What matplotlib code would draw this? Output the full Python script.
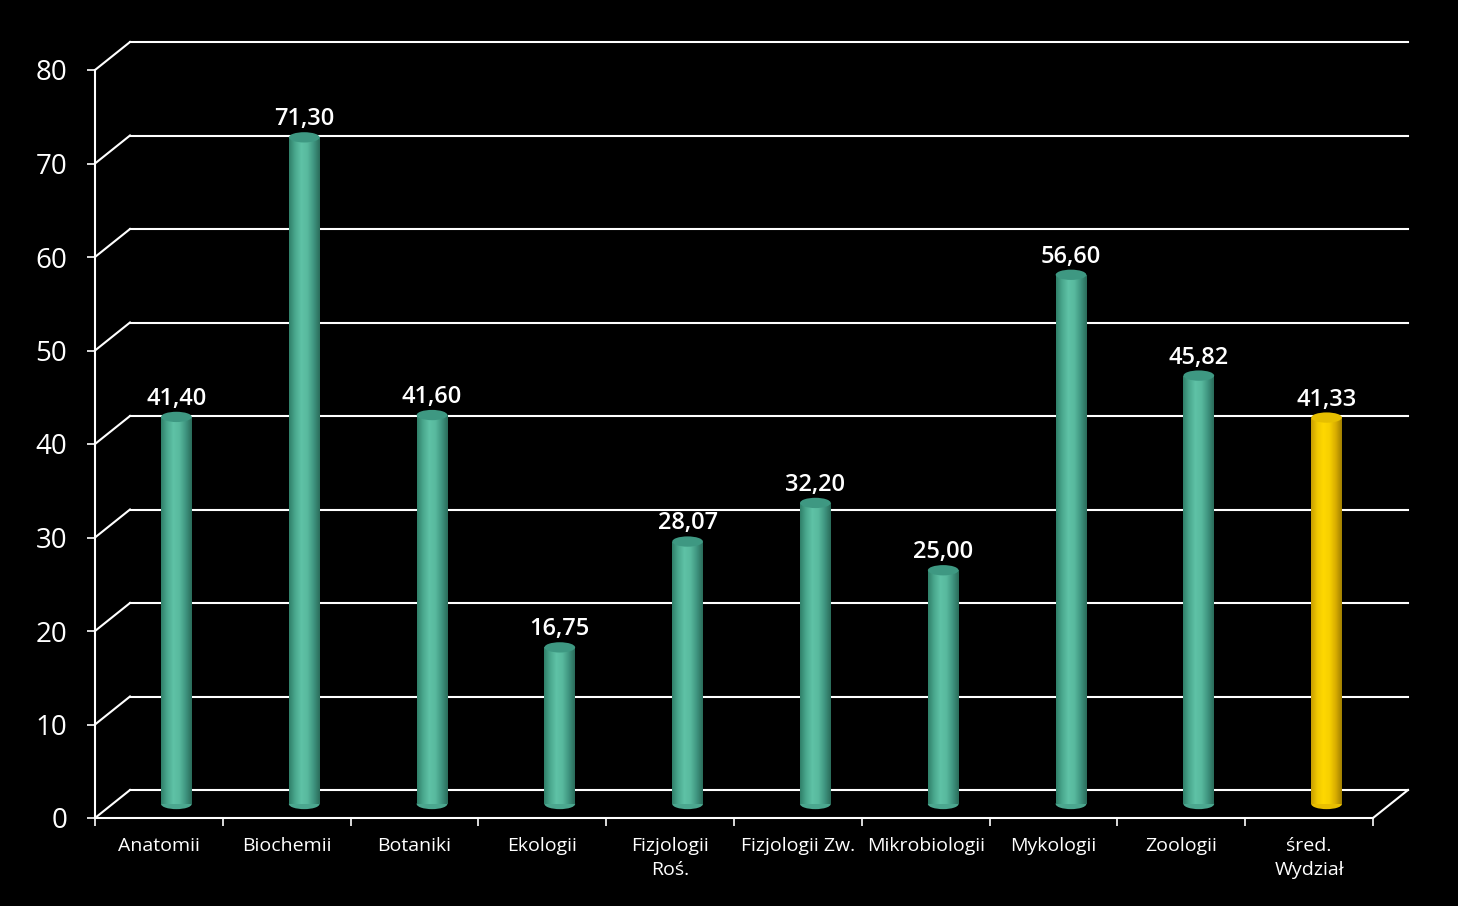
import numpy as np
import matplotlib
matplotlib.use("Agg")
import matplotlib.pyplot as plt
from matplotlib.transforms import ScaledTranslation
from matplotlib.patches import Rectangle, Ellipse
from matplotlib.colors import LinearSegmentedColormap

plt.rcParams['font.family'] = ['Open Sans', 'DejaVu Sans']

categories = ["Anatomii", "Biochemii", "Botaniki", "Ekologii", "Fizjologii\nRoś.",
              "Fizjologii Zw.", "Mikrobiologii", "Mykologii", "Zoologii", "śred.\nWydział"]
values = [41.40, 71.30, 41.60, 16.75, 28.07, 32.20, 25.00, 56.60, 45.82, 41.33]
value_labels = ["41,40", "71,30", "41,60", "16,75", "28,07", "32,20", "25,00", "56,60", "45,82", "41,33"]
y_ticks = [0, 10, 20, 30, 40, 50, 60, 70, 80]
highlight = [False] * 9 + [True]

W, H, DPI = 1458, 906, 100
fig = plt.figure(figsize=(W / DPI, H / DPI), dpi=DPI, facecolor='black')
# front plane axes
ax = fig.add_axes([95 / W, (H - 818) / H, (1373 - 95) / W, (818 - 70) / H])
ax.set_facecolor('black')
n = len(categories)
ax.set_xlim(-0.5, n - 0.5)
ax.set_ylim(0, 80)

dx, dy = 0.175, 0.14  # depth offset in inches (back wall)
back = ax.transData + ScaledTranslation(2 * dx, 2 * dy, fig.dpi_scale_trans)
mid = ax.transData + ScaledTranslation(dx, dy, fig.dpi_scale_trans)

# spines
for s in ['top', 'right']:
    ax.spines[s].set_visible(False)
for s in ['left', 'bottom']:
    ax.spines[s].set_color('white')
    ax.spines[s].set_linewidth(1.5)

# y ticks
ax.set_yticks(y_ticks)
ax.set_yticklabels([str(t) for t in y_ticks])
ax.tick_params(axis='y', colors='white', direction='out', length=6, width=1.2,
               pad=14, labelsize=20)
for lab in ax.get_yticklabels():
    lab.set_fontweight('medium')
# x ticks
ax.set_xticks(np.arange(n))
ax.set_xticklabels(categories)
ax.set_xticks(np.arange(n + 1) - 0.5, minor=True)
ax.tick_params(axis='x', which='major', length=0, pad=14, colors='white', labelsize=14)
ax.tick_params(axis='x', which='minor', length=6, width=1.2, colors='white', direction='out')
for lab in ax.get_xticklabels():
    lab.set_linespacing(1.4)

# grid: back wall lines and left wall diagonals
for t in y_ticks:
    ax.plot([-0.5, n - 0.5], [t, t], color='white', lw=1.5, transform=back,
            clip_on=False, zorder=1)
    p0 = ax.transData.transform((-0.5, t))
    p1 = back.transform((-0.5, t))
    fig.add_artist(plt.Line2D([p0[0] / W, p1[0] / W], [p0[1] / H, p1[1] / H],
                              color='white', lw=1.5, transform=fig.transFigure, zorder=1))
# floor right diagonal
p0 = ax.transData.transform((n - 0.5, 0))
p1 = back.transform((n - 0.5, 0))
fig.add_artist(plt.Line2D([p0[0] / W, p1[0] / W], [p0[1] / H, p1[1] / H],
                          color='white', lw=1.5, transform=fig.transFigure, zorder=1))

teal = LinearSegmentedColormap.from_list('teal', ['#2f7f69', '#4aa88e', '#5fc2a6', '#58b99e', '#3f9580', '#2a6b59'])
gold = LinearSegmentedColormap.from_list('gold', ['#c79d00', '#f0c800', '#ffd800', '#f7d000', '#d9ad00', '#a07f00'])
grad = np.linspace(0, 1, 256).reshape(1, -1)

bw = 0.24
eh = 1.1
for i, (v, lab, hl) in enumerate(zip(values, value_labels, highlight)):
    cmap = gold if hl else teal
    rect = Rectangle((i - bw / 2, 0), bw, v, transform=mid, facecolor='none', edgecolor='none')
    ax.add_patch(rect)
    im = ax.imshow(grad, cmap=cmap, aspect='auto', extent=[i - bw / 2, i + bw / 2, 0, v],
                   transform=mid, zorder=3, interpolation='bilinear')
    im.set_clip_path(rect)
    ax.add_patch(Ellipse((i, 0), bw, eh, transform=mid,
                         facecolor=cmap(0.7), edgecolor='none', zorder=2.9, clip_on=False))
    topc = '#e6bf00' if hl else '#3e9882'
    ax.add_patch(Ellipse((i, v), bw, eh, transform=mid,
                         facecolor=topc, edgecolor='none', zorder=4, clip_on=False))
    ax.annotate(lab, xy=(i, v), xycoords=mid, xytext=(0, 13), textcoords='offset points',
                ha='center', va='center', color='white', fontsize=17, fontweight='semibold',
                zorder=5, annotation_clip=False)

ax.set_xlim(-0.5, n - 0.5)
ax.set_ylim(0, 80)
fig.savefig('out.png', dpi=DPI, facecolor='black')
